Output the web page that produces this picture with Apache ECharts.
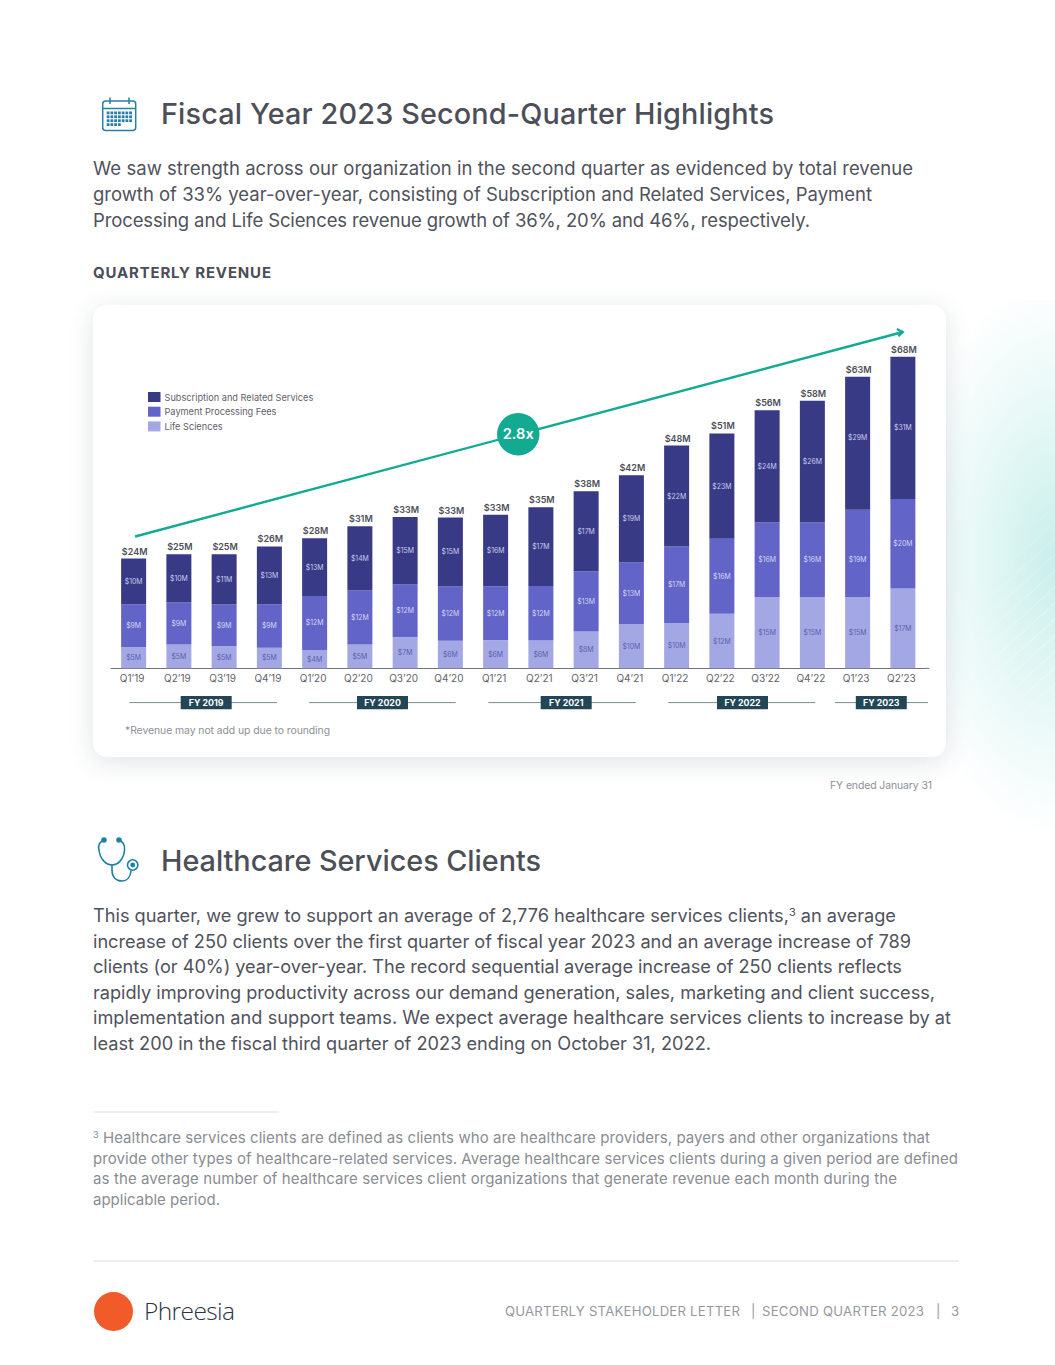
<!DOCTYPE html>
<html><head><meta charset="utf-8">
<script src="https://cdn.jsdelivr.net/npm/echarts@6/dist/echarts.min.js"></script>
<style>
html,body{margin:0;padding:0;background:#fff}
#page{position:relative;width:1055px;height:1365px;overflow:hidden;font-family:Inter,sans-serif;color:#4b4d57}
#glow{position:absolute;left:880px;top:300px;width:175px;height:560px;
 background:radial-gradient(ellipse 150px 280px at 100% 46%,rgba(165,228,222,.6),rgba(185,236,230,.33) 55%,rgba(210,242,238,0) 100%)}
#stripes{position:absolute;left:900px;top:300px;width:155px;height:560px;
 background:repeating-linear-gradient(-42deg,rgba(255,255,255,0) 0 10px,rgba(255,255,255,.24) 10px 12px);
 -webkit-mask-image:radial-gradient(ellipse 130px 170px at 100% 62%,#000,transparent);mask-image:radial-gradient(ellipse 130px 170px at 100% 62%,#000,transparent)}
#card{position:absolute;left:93px;top:305px;width:853px;height:452px;background:#fff;border-radius:14px;box-shadow:0 5px 26px rgba(40,60,80,.14)}
#chart{position:absolute;left:0;top:0;width:853px;height:452px}
.t{position:absolute;white-space:nowrap}
.h{font-weight:500;font-size:28.8px;line-height:36px;color:#4d4f58;left:161px}
.p{left:93px;font-size:18.5px;line-height:26px;color:#50525c}
.q{left:93px;font-size:18.2px;line-height:26px;color:#50525c}
.f{left:93px;font-size:15px;line-height:20px;color:#8a8c93}
.b{top:1303px;font-size:13.2px;line-height:17px;color:#96989f}
sup{font-size:.6em;line-height:0;vertical-align:.55em}
.rule{position:absolute;height:1.5px;background:#eceef0}
</style></head><body>
<div id="page">
<div id="glow"></div><div id="stripes"></div>

<svg class="t" style="left:100px;top:96px" width="38" height="36" viewBox="0 0 38 36" fill="none" stroke="#2a7fa8" stroke-width="1.5">
 <rect x="2.7" y="5" width="33" height="29.5" rx="3"/><path d="M2.7 12.5H35.7M10 1.5V8M29 1.5V8"/>
 <g fill="#2a7fa8" stroke="none" id="cal"></g></svg>
<div class="t h fit" data-x2="774" style="top:96px">Fiscal Year 2023 Second-Quarter Highlights</div>

<div class="t p fit" data-x2="913" style="top:155px">We saw strength across our organization in the second quarter as evidenced by total revenue</div>
<div class="t p fit" data-x2="872" style="top:181px">growth of 33% year-over-year, consisting of Subscription and Related Services, Payment</div>
<div class="t p fit" data-x2="810" style="top:207px">Processing and Life Sciences revenue growth of 36%, 20% and 46%, respectively.</div>
<div class="t fit" data-x2="271" style="left:93px;top:264px;font-size:15px;line-height:18px;font-weight:700;color:#4b4d57">QUARTERLY REVENUE</div>

<div id="card"><div id="chart"></div>
 <div class="t fit" data-x2="237" style="left:32px;top:419px;font-size:10.4px;line-height:14px;color:#8d8f98">*Revenue may not add up due to rounding</div>
</div>
<div class="t fit" data-x2="932" style="left:830px;top:779px;font-size:10.4px;line-height:14px;color:#8d8f98">FY ended January 31</div>

<svg class="t" style="left:96px;top:836px" width="46" height="48" viewBox="0 0 46 48" fill="none" stroke="#1f7ea3" stroke-width="1.6" stroke-linecap="round">
 <path d="M8 4C3 6 2 10 3 14C4 23 10 29 16 29C22 29 28 23 28.5 14C29 10 28 6 23 4"/>
 <path d="M16 29V34C16 41 20 45 26 45C31 45 34.5 41 35 35"/>
 <circle cx="8" cy="4" r="2" fill="#1f7ea3"/><circle cx="23" cy="4" r="2" fill="#1f7ea3"/>
 <circle cx="36.7" cy="29" r="5.2"/><circle cx="36.7" cy="29" r="1.6" fill="#1f7ea3"/></svg>
<div class="t h fit" data-x2="541" style="top:843px">Healthcare Services Clients</div>

<div class="t q fit" data-x2="896" style="top:902px">This quarter, we grew to support an average of 2,776 healthcare services clients,<sup>3</sup> an average</div>
<div class="t q fit" data-x2="911" style="top:928px">increase of 250 clients over the first quarter of fiscal year 2023 and an average increase of 789</div>
<div class="t q fit" data-x2="902" style="top:953px">clients (or 40%) year-over-year. The record sequential average increase of 250 clients reflects</div>
<div class="t q fit" data-x2="935" style="top:979px">rapidly improving productivity across our demand generation, sales, marketing and client success,</div>
<div class="t q fit" data-x2="951" style="top:1004px">implementation and support teams. We expect average healthcare services clients to increase by at</div>
<div class="t q fit" data-x2="711" style="top:1030px">least 200 in the fiscal third quarter of 2023 ending on October 31, 2022.</div>

<div class="rule" style="left:93px;top:1111px;width:186px"></div>
<div class="t f fit" data-x2="930" style="top:1128px"><sup>3</sup> Healthcare services clients are defined as clients who are healthcare providers, payers and other organizations that</div>
<div class="t f fit" data-x2="958" style="top:1149px">provide other types of healthcare-related services. Average healthcare services clients during a given period are defined</div>
<div class="t f fit" data-x2="897" style="top:1169px">as the average number of healthcare services client organizations that generate revenue each month during the</div>
<div class="t f fit" data-x2="220" style="top:1190px">applicable period.</div>

<div class="rule" style="left:93px;top:1260px;width:866px;height:2px"></div>
<div class="t" style="left:93.5px;top:1291.5px;width:39px;height:39px;border-radius:50%;background:#f15a29"></div>
<div class="t fit" data-x2="235" style="left:144px;top:1293px;font-family:'Open Sans',sans-serif;font-weight:300;font-size:24.5px;line-height:36px;color:#2b3347">Phreesia</div>
<div class="t b fit" data-x2="740" style="left:505px">QUARTERLY STAKEHOLDER LETTER</div>
<div class="t b" style="left:751px">|</div>
<div class="t b fit" data-x2="924" style="left:762px">SECOND QUARTER 2023</div>
<div class="t b" style="left:936px">|</div>
<div class="t b" style="left:951px">3</div>
</div>

<script>
const categories = ["Q1’19","Q2’19","Q3’19","Q4’19","Q1’20","Q2’20","Q3’20","Q4’20","Q1’21","Q2’21","Q3’21","Q4’21","Q1’22","Q2’22","Q3’22","Q4’22","Q1’23","Q2’23"];
const lifeSciences = [4.65,5.2,4.8,4.5,4.0,5.2,6.75,6.0,6.1,6.05,8.05,9.6,9.9,11.9,15.5,15.5,15.5,17.4];
const paymentFees = [9.3,9.15,9.1,9.5,11.8,11.8,11.55,11.85,11.8,11.9,13.1,13.5,16.65,16.35,16.3,16.3,19.1,19.55];
const subscription = [10.0,10.55,11.0,12.6,12.6,14.0,14.7,15.05,15.6,17.2,17.5,19.0,22.05,23.0,24.5,26.55,29.0,31.05];
const lifeLabels = ["$5M","$5M","$5M","$5M","$4M","$5M","$7M","$6M","$6M","$6M","$8M","$10M","$10M","$12M","$15M","$15M","$15M","$17M"];
const paymentLabels = ["$9M","$9M","$9M","$9M","$12M","$12M","$12M","$12M","$12M","$12M","$13M","$13M","$17M","$16M","$16M","$16M","$19M","$20M"];
const subscriptionLabels = ["$10M","$10M","$11M","$13M","$13M","$14M","$15M","$15M","$16M","$17M","$17M","$19M","$22M","$23M","$24M","$26M","$29M","$31M"];
const totalLabels = ["$24M","$25M","$25M","$26M","$28M","$31M","$33M","$33M","$33M","$35M","$38M","$42M","$48M","$51M","$56M","$58M","$63M","$68M"];
const totals = [23.95,24.9,24.9,26.6,28.4,31,33,32.9,33.5,35.15,38.65,42.1,48.6,51.25,56.3,58.35,63.6,68];
const trendStart = [0,28.76];
const trendEnd = [17,73.38];
const multipleLabel = "2.8x";
const fyLabels = ["FY 2019","FY 2020","FY 2021","FY 2022","FY 2023"];
const seriesNames = ["Subscription and Related Services","Payment Processing Fees","Life Sciences"];

// stretch each page text line to the width it has in the reference
document.querySelectorAll('.fit').forEach(el=>{
 const r=el.getBoundingClientRect();
 const px=el.parentElement.id==='card'?el.parentElement.getBoundingClientRect().left:0;
 const target=+el.dataset.x2-(r.left-px);
 el.style.letterSpacing=((target-r.width)/Math.max(1,el.textContent.length-1)).toFixed(3)+'px';
});

// calendar icon dots
(function(){const g=document.getElementById('cal');let s='';
 for(let r=0;r<4;r++){const n=r==3?4:7;for(let c=0;c<n;c++){s+='<rect x="'+(6.7+c*3.75)+'" y="'+(15.5+r*3.9)+'" width="2.8" height="2.8"/>';}}
 g.innerHTML=s;})();

const FONT='Inter, sans-serif';
const chart=echarts.init(document.getElementById('chart'),null,{renderer:'svg'});
function seg(name,data,labels,color,labelColor,shift){
 return {name,type:'bar',stack:'rev',data,barWidth:25,itemStyle:{color},silent:true,
  labelLayout:p=>p.dataIndex===16?{dy:shift}:{},
  label:{show:true,position:'inside',fontFamily:FONT,fontSize:6.9,color:labelColor,offset:[-1,0],
   formatter:p=>labels[p.dataIndex]}};
}
// positions (in chart px) of the fiscal-year bands below the axis
const bandY=397.6, chipW=51, chipH=13.4;
const bandLayout=[[36.3,184,113.2],[216,362.7,289.5],[395.3,542.7,473.2],[575.3,722.3,649.5],[742,835,788.3]];
const graphics=[];
bandLayout.forEach((b,i)=>{
 graphics.push({type:'line',silent:true,shape:{x1:b[0],y1:bandY,x2:b[1],y2:bandY},style:{stroke:'#7b8a92',lineWidth:1}});
 graphics.push({type:'rect',silent:true,shape:{x:b[2]-chipW/2,y:bandY-chipH/2,width:chipW,height:chipH},style:{fill:'#234657'}});
 graphics.push({type:'text',silent:true,x:b[2],y:bandY,style:{text:fyLabels[i],fill:'#fff',font:'700 8.8px '+FONT,align:'center',verticalAlign:'middle'}});
});
// tail of the baseline past the last band
graphics.push({type:'line',silent:true,shape:{x1:832.5,y1:363.3,x2:836.5,y2:363.3},style:{stroke:'#6f7379',lineWidth:1}});

chart.setOption({
 animation:false,
 textStyle:{fontFamily:FONT},
 legend:{data:seriesNames,orient:'vertical',left:55,top:87,padding:0,itemWidth:12.5,itemHeight:10,itemGap:4.7,icon:'rect',selectedMode:false,
  textStyle:{fontFamily:FONT,fontSize:9.2,color:'#5f616b',padding:[0,0,0,-1]}},
 grid:{left:18,width:814.5,top:19.55,height:343.75},
 xAxis:{type:'category',data:categories,axisTick:{show:false},
  axisLine:{lineStyle:{color:'#6f7379',width:1}},
  axisLabel:{fontFamily:FONT,fontSize:10,color:'#5f626b',margin:5,padding:[0,3,0,0],interval:0}},
 yAxis:{type:'value',min:0,max:75,show:false},
 graphic:graphics,
 series:[
  seg(seriesNames[2],lifeSciences,lifeLabels,'#a3a8e5','#5e60ad',0),
  seg(seriesNames[1],paymentFees,paymentLabels,'#6264c8','#d4d5f3',6),
  seg(seriesNames[0],subscription,subscriptionLabels,'#383a86','#c9cbec',-6),
  {name:'Total',type:'line',data:totals,symbol:'circle',symbolSize:0.01,itemStyle:{color:'rgba(0,0,0,0)'},lineStyle:{width:0,opacity:0},silent:true,
   label:{show:true,position:'top',distance:3,offset:[1,0],fontFamily:FONT,fontSize:9,fontWeight:600,color:'#4c4e58',
    formatter:p=>totalLabels[p.dataIndex]}},
  {name:'Trend',type:'custom',silent:true,clip:false,z:5,
   encode:{x:0,y:1},data:[[trendStart[0],trendStart[1],trendEnd[0],trendEnd[1]]],
   renderItem:function(params,api){
    const a=api.coord([api.value(0),api.value(1)]);
    const b=api.coord([api.value(2),api.value(3)]);
    const mx=(a[0]+b[0])/2,my=(a[1]+b[1])/2;
    const teal='#12ab92';
    return {type:'group',children:[
     {type:'line',shape:{x1:a[0]+1.5,y1:a[1],x2:b[0],y2:b[1]},style:{stroke:teal,lineWidth:2.4,fill:null}},
     {type:'polyline',shape:{points:[[b[0]-6,b[1]-3],[b[0],b[1]],[b[0]-4.5,b[1]+4.2]]},style:{stroke:teal,lineWidth:2.2,fill:null}},
     {type:'circle',shape:{cx:mx,cy:my,r:21.2},style:{fill:teal}},
     {type:'text',x:mx,y:my,style:{text:multipleLabel,fill:'#fff',font:'600 14.6px '+FONT,align:'center',verticalAlign:'middle'}}
    ]};
   }}
 ]
});
</script>
</body></html>
